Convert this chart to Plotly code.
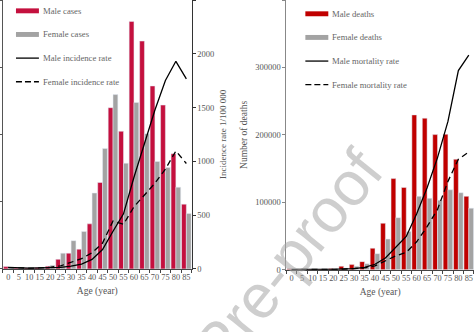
import plotly.graph_objects as go

# Age groups (start of each 5-year band)
ages = ["0", "5", "10", "15", "20", "25", "30", "35", "40",
        "45", "50", "55", "60", "65", "70", "75", "80", "85"]

# New cases by age group
male_cases = [3400, 1500, 1500, 1900, 4000, 14200, 23400, 29300, 67000,
              128500, 239800, 204700, 368200, 338900, 272100, 243700, 171400, 96300]
female_cases = [1000, 700, 700, 1500, 5400, 23400, 42000, 55700, 112800,
                179200, 259300, 157200, 247600, 201200, 159700, 150900, 121600, 82500]

# Incidence rate per 100 000
male_incidence = [15, 8, 8, 10, 12, 15, 25, 45, 88,
                  180, 350, 512, 852, 1157, 1477, 1752, 1930, 1767]
female_incidence = [12, 7, 7, 9, 15, 28, 58, 95, 150,
                    240, 446, 415, 577, 684, 797, 928, 1096, 980]

# Deaths by age group
male_deaths = [1500, 900, 1000, 1200, 2000, 5400, 7800, 12200, 32100,
               69100, 135300, 122200, 229700, 224800, 200500, 201000, 164000, 109000]
female_deaths = [1100, 600, 700, 800, 1200, 2900, 5400, 9200, 24000,
                 45700, 77400, 57000, 109000, 106100, 103200, 118700, 114300, 91500]

# Mortality rate per 100 000
male_mortality = [4, 3, 3, 4, 5, 8, 12, 23, 52,
                  110, 215, 310, 520, 760, 1040, 1375, 1846, 1989]
female_mortality = [3, 2, 2, 3, 4, 6, 10, 18, 37,
                    80, 130, 162, 260, 400, 560, 820, 1025, 1092]

W, H = 474, 332
SERIF = "Liberation Serif, Times New Roman, serif"
TXT = "#555555"
CASE_RED = "#C4103E"
DEATH_RED = "#C00000"
GREY = "#A3A3A3"

fig = go.Figure()

# Left panel: cases + incidence rate
fig.add_trace(go.Bar(x=ages, y=male_cases, name="Male cases", marker_color=CASE_RED,
                     offsetgroup="m", xaxis="x", yaxis="y"))
fig.add_trace(go.Bar(x=ages, y=female_cases, name="Female cases", marker_color=GREY,
                     offsetgroup="f", xaxis="x", yaxis="y"))
fig.add_trace(go.Scatter(x=ages, y=male_incidence, mode="lines", name="Male incidence rate",
                         line=dict(color="black", width=1.3), xaxis="x", yaxis="y2"))
fig.add_trace(go.Scatter(x=ages, y=female_incidence, mode="lines", name="Female incidence rate",
                         line=dict(color="black", width=1.3, dash="6px,4px"), xaxis="x", yaxis="y2"))

# Right panel: deaths + mortality rate
fig.add_trace(go.Bar(x=ages, y=male_deaths, name="Male deaths", marker_color=DEATH_RED,
                     offsetgroup="m", xaxis="x2", yaxis="y3"))
fig.add_trace(go.Bar(x=ages, y=female_deaths, name="Female deaths", marker_color=GREY,
                     offsetgroup="f", xaxis="x2", yaxis="y3"))
fig.add_trace(go.Scatter(x=ages, y=male_mortality, mode="lines", name="Male mortality rate",
                         line=dict(color="black", width=1.3), xaxis="x2", yaxis="y4"))
fig.add_trace(go.Scatter(x=ages, y=female_mortality, mode="lines", name="Female mortality rate",
                         line=dict(color="black", width=1.3, dash="6px,4px"), xaxis="x2", yaxis="y4"))

tickfont = dict(family=SERIF, size=8.5, color=TXT)
xcommon = dict(type="category", tickson="boundaries", ticks="outside", ticklen=3,
               tickmode="array", tickvals=ages, ticktext=ages, tickangle=0,
               tickcolor="#444", showline=True, linecolor="#444", linewidth=1,
               tickfont=dict(family=SERIF, size=8.3, color=TXT),
               showgrid=False, zeroline=False,
               title=dict(text="Age (year)", font=dict(family=SERIF, size=9.5, color=TXT),
                          standoff=6))

fig.update_layout(
    width=W, height=H,
    margin=dict(l=0, r=0, t=0, b=0),
    paper_bgcolor="white", plot_bgcolor="white",
    showlegend=False,
    barmode="group", bargap=0.08, bargroupgap=0,
    xaxis=dict(domain=[2 / W, 191 / W], anchor="y", **xcommon),
    yaxis=dict(domain=[(H - 273) / H, 1.0], anchor="x", range=[0, 400000], dtick=100000,
               showticklabels=False, ticks="outside", ticklen=3, tickcolor="#555",
               showline=True, linecolor="#555", showgrid=False, zeroline=False),
    yaxis2=dict(overlaying="y", side="right", anchor="x", range=[0, 2500], dtick=500,
                ticks="outside", ticklen=3, tickcolor="#333", showline=True, linecolor="#333",
                tickfont=tickfont, showgrid=False, zeroline=False,
                title=dict(text="Incidence rate 1/100 000",
                           font=dict(family=SERIF, size=9, color=TXT), standoff=6)),
    xaxis2=dict(domain=[286 / W, 1.0], anchor="y3", **xcommon),
    yaxis3=dict(domain=[(H - 274) / H, 1.0], anchor="x2", range=[0, 400000], dtick=100000,
                tickformat="d",
                ticks="outside", ticklen=3, tickcolor="#888", showline=True, linecolor="#888",
                tickfont=tickfont, showgrid=False, zeroline=False,
                title=dict(text="Number of deaths",
                           font=dict(family=SERIF, size=9.5, color=TXT), standoff=5)),
    yaxis4=dict(overlaying="y3", side="right", anchor="x2", range=[0, 2500],
                visible=False, showgrid=False, zeroline=False),
)

# Hand-drawn legends inside each panel
def px_x(v):
    return v / W

def px_y(v):
    return 1 - v / H

legend_sets = [
    (15, 38, 40, [11, 35, 59, 83],
     [("Male cases", "bar", CASE_RED), ("Female cases", "bar", GREY),
      ("Male incidence rate", "solid", "black"), ("Female incidence rate", "dash", "black")]),
    (305, 328, 330, [14, 38, 62, 86],
     [("Male deaths", "bar", DEATH_RED), ("Female deaths", "bar", GREY),
      ("Male mortality rate", "solid", "black"), ("Female mortality rate", "dash", "black")]),
]
shapes = []
annotations = []
for x0, x1, xt, rows, items in legend_sets:
    for yy, (label, kind, col) in zip(rows, items):
        if kind == "bar":
            shapes.append(dict(type="rect", xref="paper", yref="paper",
                               x0=px_x(x0), x1=px_x(x1), y0=px_y(yy + 2.5), y1=px_y(yy - 2.5),
                               fillcolor=col, line=dict(width=0)))
        else:
            shapes.append(dict(type="line", xref="paper", yref="paper",
                               x0=px_x(x0), x1=px_x(x1), y0=px_y(yy), y1=px_y(yy),
                               line=dict(color=col, width=1.3,
                                         dash="solid" if kind == "solid" else "6px,3px")))
        annotations.append(dict(text=label, xref="paper", yref="paper",
                                x=px_x(xt), y=px_y(yy), xanchor="left", yanchor="middle",
                                showarrow=False,
                                font=dict(family=SERIF, size=8.7, color="#666666")))

# Diagonal proof watermark
annotations.append(dict(text="Journal Pre-proof", xref="paper", yref="paper",
                        x=px_x(218), y=px_y(350), xanchor="center", yanchor="middle",
                        textangle=-51, showarrow=False,
                        font=dict(family="Liberation Sans, Arial, sans-serif", size=62,
                                  color="rgba(165,165,165,0.55)")))

fig.update_layout(shapes=shapes, annotations=annotations)

fig.write_html("out.html")
